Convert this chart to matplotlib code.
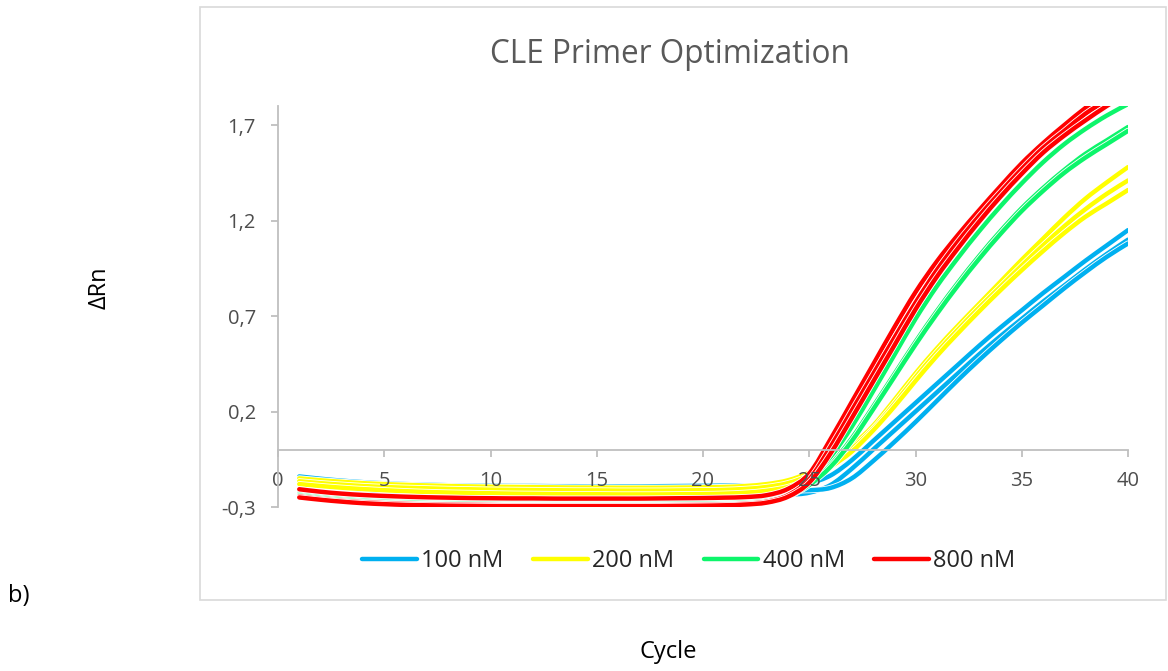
import numpy as np
import matplotlib
matplotlib.use("Agg")
import matplotlib.pyplot as plt
import matplotlib.patheffects as pe
from matplotlib.path import Path
from matplotlib.patches import PathPatch, Rectangle
from matplotlib.lines import Line2D

plt.rcParams['font.family'] = ['Open Sans', 'DejaVu Sans']

# qPCR amplification curves, cycles 1..40, three replicates per primer concentration
cycles = list(range(1, 41))

blue_a = [-0.140, -0.152, -0.162, -0.170, -0.176, -0.180, -0.183, -0.186, -0.188, -0.189,
          -0.190, -0.190, -0.191, -0.191, -0.192, -0.192, -0.192, -0.191, -0.190, -0.189,
          -0.188, -0.187, -0.186, -0.185, -0.175, -0.135, -0.055, 0.045, 0.145, 0.245,
          0.345, 0.445, 0.545, 0.640, 0.730, 0.820, 0.905, 0.990, 1.070, 1.150]
blue_b = [-0.170, -0.185, -0.198, -0.210, -0.220, -0.228, -0.234, -0.239, -0.242, -0.245,
          -0.246, -0.247, -0.248, -0.248, -0.248, -0.248, -0.248, -0.248, -0.247, -0.246,
          -0.245, -0.243, -0.240, -0.236, -0.225, -0.185, -0.100, 0.000, 0.100, 0.200,
          0.300, 0.400, 0.500, 0.595, 0.685, 0.775, 0.860, 0.945, 1.025, 1.100]
blue_c = [-0.160, -0.172, -0.182, -0.190, -0.196, -0.200, -0.203, -0.206, -0.208, -0.210,
          -0.211, -0.212, -0.213, -0.214, -0.214, -0.214, -0.214, -0.213, -0.212, -0.211,
          -0.210, -0.209, -0.210, -0.212, -0.212, -0.200, -0.150, -0.060, 0.040, 0.145,
          0.255, 0.365, 0.470, 0.570, 0.665, 0.755, 0.845, 0.930, 1.010, 1.080]

yellow_a = [-0.150, -0.160, -0.168, -0.175, -0.180, -0.184, -0.187, -0.190, -0.192, -0.194,
            -0.195, -0.196, -0.197, -0.198, -0.198, -0.199, -0.199, -0.199, -0.198, -0.197,
            -0.195, -0.190, -0.180, -0.160, -0.120, -0.060, 0.020, 0.125, 0.260, 0.400,
            0.530, 0.650, 0.765, 0.880, 0.995, 1.105, 1.215, 1.315, 1.400, 1.480]
yellow_b = [-0.165, -0.175, -0.183, -0.190, -0.195, -0.199, -0.202, -0.205, -0.207, -0.209,
            -0.210, -0.211, -0.212, -0.213, -0.213, -0.214, -0.214, -0.214, -0.213, -0.212,
            -0.210, -0.205, -0.195, -0.175, -0.135, -0.075, 0.005, 0.110, 0.240, 0.380,
            0.510, 0.630, 0.745, 0.855, 0.965, 1.070, 1.170, 1.260, 1.340, 1.410]
yellow_c = [-0.180, -0.190, -0.199, -0.206, -0.212, -0.217, -0.221, -0.224, -0.226, -0.228,
            -0.230, -0.231, -0.232, -0.233, -0.233, -0.234, -0.234, -0.234, -0.233, -0.232,
            -0.230, -0.225, -0.215, -0.195, -0.155, -0.090, -0.010, 0.100, 0.225, 0.360,
            0.490, 0.610, 0.725, 0.835, 0.940, 1.040, 1.135, 1.220, 1.290, 1.360]

green_a = [-0.227, -0.240, -0.250, -0.258, -0.264, -0.268, -0.271, -0.274, -0.276, -0.277,
           -0.278, -0.279, -0.280, -0.280, -0.280, -0.280, -0.280, -0.279, -0.278, -0.277,
           -0.275, -0.272, -0.262, -0.235, -0.160, -0.040, 0.120, 0.305, 0.495, 0.685,
           0.855, 1.005, 1.145, 1.275, 1.395, 1.505, 1.600, 1.680, 1.750, 1.810]
green_b = [-0.235, -0.248, -0.258, -0.266, -0.272, -0.276, -0.279, -0.281, -0.283, -0.284,
           -0.285, -0.285, -0.285, -0.285, -0.285, -0.285, -0.285, -0.284, -0.283, -0.282,
           -0.280, -0.276, -0.266, -0.240, -0.175, -0.080, 0.060, 0.225, 0.395, 0.565,
           0.725, 0.875, 1.015, 1.145, 1.265, 1.370, 1.465, 1.550, 1.620, 1.690]
green_c = [-0.240, -0.253, -0.263, -0.271, -0.277, -0.281, -0.284, -0.286, -0.288, -0.289,
           -0.290, -0.290, -0.290, -0.290, -0.290, -0.290, -0.290, -0.289, -0.288, -0.287,
           -0.285, -0.281, -0.271, -0.246, -0.185, -0.090, 0.045, 0.210, 0.380, 0.550,
           0.710, 0.860, 1.000, 1.130, 1.250, 1.355, 1.450, 1.530, 1.600, 1.670]

red_a = [-0.207, -0.220, -0.230, -0.237, -0.242, -0.246, -0.249, -0.251, -0.253, -0.254,
         -0.255, -0.255, -0.256, -0.256, -0.256, -0.256, -0.256, -0.255, -0.254, -0.253,
         -0.251, -0.248, -0.238, -0.205, -0.125, 0.055, 0.250, 0.445, 0.640, 0.825,
         0.985, 1.125, 1.255, 1.380, 1.500, 1.605, 1.700, 1.790, 1.870, 1.940]
red_b = [-0.245, -0.258, -0.268, -0.275, -0.280, -0.284, -0.286, -0.288, -0.289, -0.290,
         -0.291, -0.291, -0.292, -0.292, -0.292, -0.292, -0.292, -0.291, -0.290, -0.289,
         -0.287, -0.283, -0.272, -0.238, -0.155, 0.015, 0.205, 0.395, 0.585, 0.770,
         0.940, 1.090, 1.225, 1.350, 1.470, 1.580, 1.670, 1.760, 1.830, 1.900]
red_c = [-0.250, -0.262, -0.272, -0.280, -0.285, -0.289, -0.291, -0.293, -0.294, -0.295,
         -0.296, -0.296, -0.296, -0.296, -0.296, -0.296, -0.296, -0.295, -0.294, -0.293,
         -0.291, -0.287, -0.277, -0.246, -0.172, -0.020, 0.165, 0.355, 0.545, 0.735,
         0.905, 1.055, 1.195, 1.325, 1.445, 1.555, 1.645, 1.725, 1.800, 1.870]

series_labels = ['100 nM', '200 nM', '400 nM', '800 nM']
series_colors = ['#00B0F0', '#FFFF00', '#0DF56B', '#FF0000']
series_runs = [[blue_a, blue_b, blue_c],
               [yellow_a, yellow_b, yellow_c],
               [green_a, green_b, green_c],
               [red_a, red_b, red_c]]

x_ticks = [0, 5, 10, 15, 20, 25, 30, 35, 40]
y_ticks = [-0.3, 0.2, 0.7, 1.2, 1.7]
y_tick_labels = ['-0,3', '0,2', '0,7', '1,2', '1,7']


def smooth_path(x, y):
    """Catmull-Rom curve through the points, as cubic Bezier segments."""
    x = np.asarray(x, dtype=float)
    y = np.asarray(y, dtype=float)
    n = len(x)
    verts = [(x[0], y[0])]
    codes = [Path.MOVETO]
    for i in range(n - 1):
        p0 = max(i - 1, 0)
        p3 = min(i + 2, n - 1)
        c1 = (x[i] + (x[i + 1] - x[p0]) / 6, y[i] + (y[i + 1] - y[p0]) / 6)
        c2 = (x[i + 1] - (x[p3] - x[i]) / 6, y[i + 1] - (y[p3] - y[i]) / 6)
        verts += [c1, c2, (x[i + 1], y[i + 1])]
        codes += [Path.CURVE4] * 3
    return Path(verts, codes)


W, H = 1168, 671
fig = plt.figure(figsize=(W / 100, H / 100), dpi=100)
fig.patch.set_facecolor('white')

# chart area frame
fig.patches.append(Rectangle((200 / W, 1 - 600 / H), 966 / W, 593 / H,
                             transform=fig.transFigure, fill=False,
                             edgecolor='#D9D9D9', lw=1.2))

ax = fig.add_axes([278 / W, 1 - 507 / H, 850 / W, 401 / H])
ax.set_xlim(0, 40)
ax.set_ylim(-0.3, 1.8)
ax.patch.set_alpha(0)

lw = 3.2
for runs, color in zip(series_runs, series_colors):
    for vals in runs:
        patch = PathPatch(smooth_path(cycles, vals), fill=False, edgecolor=color,
                          lw=lw, capstyle='round', joinstyle='round',
                          transform=ax.transData)
        patch.set_path_effects([pe.Stroke(linewidth=lw + 1.2, foreground='white'),
                                pe.Normal()])
        ax.add_patch(patch)

axis_gray = '#BFBFBF'
for side in ['top', 'right']:
    ax.spines[side].set_visible(False)
ax.spines['bottom'].set_position(('data', 0))
ax.spines['bottom'].set_color(axis_gray)
ax.spines['left'].set_color(axis_gray)
ax.spines['bottom'].set_linewidth(1.3)
ax.spines['left'].set_linewidth(1.3)

ax.set_xticks(x_ticks)
ax.set_xticklabels([str(t) for t in x_ticks])
ax.set_yticks(y_ticks)
ax.set_yticklabels(y_tick_labels)
ax.tick_params(axis='both', colors=axis_gray, labelcolor='#4D4D4D',
               labelsize=14.5, length=5, width=1.3)
ax.tick_params(axis='x', pad=10)
ax.tick_params(axis='y', pad=11)

fig.text(670 / W, 1 - 63 / H, 'CLE Primer Optimization', ha='center', va='baseline',
         fontsize=22.7, color='#595959')

handles = [Line2D([], [], color=c, lw=lw, solid_capstyle='round') for c in series_colors]
fig.legend(handles, series_labels, loc='center', bbox_to_anchor=(689 / W, 1 - 561 / H),
           ncol=4, frameon=False, fontsize=17, handlelength=2.3, handletextpad=0.2,
           columnspacing=1.25, labelcolor='#262626')

fig.text(100 / W, 1 - 288 / H, 'ΔRn', rotation=90, ha='center', va='center',
         fontsize=17, color='black')
fig.text(668 / W, 1 - 652 / H, 'Cycle', ha='center', va='center',
         fontsize=17, color='black')
fig.text(8 / W, 1 - 596 / H, 'b)', ha='left', va='center',
         fontsize=17, color='black')

fig.savefig('out.png', dpi=100)
